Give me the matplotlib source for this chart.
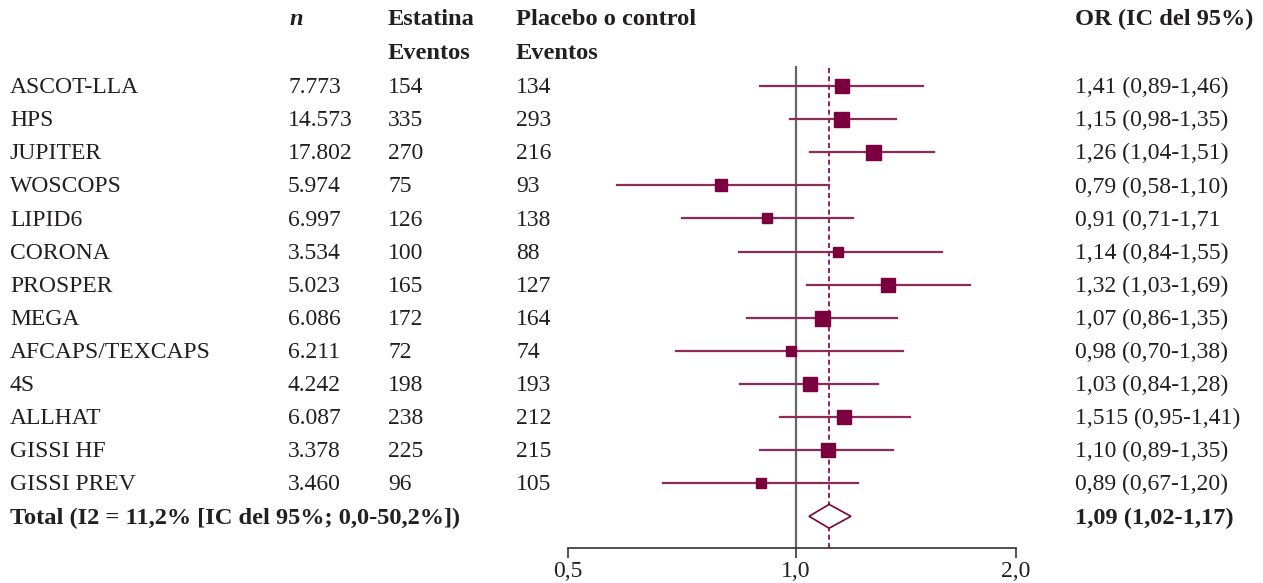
import numpy as np
import matplotlib.pyplot as plt
from matplotlib.transforms import blended_transform_factory
from matplotlib.ticker import FixedLocator, FixedFormatter, NullLocator

plt.rcParams['font.family'] = ['Liberation Serif', 'DejaVu Serif']

studies = ['ASCOT-LLA', 'HPS', 'JUPITER', 'WOSCOPS', 'LIPID6', 'CORONA', 'PROSPER',
           'MEGA', 'AFCAPS/TEXCAPS', '4S', 'ALLHAT', 'GISSI HF', 'GISSI PREV']
n_pat = ['7.773', '14.573', '17.802', '5.974', '6.997', '3.534', '5.023',
         '6.086', '6.211', '4.242', '6.087', '3.378', '3.460']
ev_statin = [154, 335, 270, 75, 126, 100, 165, 172, 72, 198, 238, 225, 96]
ev_control = [134, 293, 216, 93, 138, 88, 127, 164, 74, 193, 212, 215, 105]
or_text = ['1,41 (0,89-1,46)', '1,15 (0,98-1,35)', '1,26 (1,04-1,51)', '0,79 (0,58-1,10)',
           '0,91 (0,71-1,71', '1,14 (0,84-1,55)', '1,32 (1,03-1,69)', '1,07 (0,86-1,35)',
           '0,98 (0,70-1,38)', '1,03 (0,84-1,28)', '1,515 (0,95-1,41)', '1,10 (0,89-1,35)',
           '0,89 (0,67-1,20)']
# plotted estimates
or_point = [1.156, 1.152, 1.275, 0.796, 0.916, 1.141, 1.336, 1.085, 0.985, 1.045, 1.163, 1.106, 0.899]
ci_low = [0.896, 0.982, 1.045, 0.580, 0.707, 0.841, 1.035, 0.862, 0.694, 0.844, 0.953, 0.896, 0.667]
ci_high = [1.492, 1.370, 1.545, 1.110, 1.197, 1.584, 1.730, 1.375, 1.401, 1.295, 1.432, 1.357, 1.216]
box_size = [9.5, 10.8, 10.8, 8.0, 7.9, 7.9, 9.4, 10.8, 7.9, 10.1, 10.1, 10.1, 7.9]

total_label = 'Total (I2 = 11,2% [IC del 95%; 0,0-50,2%])'
total_text = '1,09 (1,02-1,17)'
total_or, total_low, total_high = 1.110, 1.042, 1.189

ticks = [0.5, 1.0, 2.0]
tick_labels = ['0,5', '1,0', '2,0']


# the printed axis is not quite symmetric in log units: left half a bit wider
def fwd(x):
    lx = np.log2(np.clip(x, 1e-6, None))
    return np.where(lx < 0, 228 * lx, 220 * lx)


def inv(y):
    y = np.asarray(y, dtype=float)
    return np.where(y < 0, 2 ** (y / 228), 2 ** (y / 220))


W, H = 1263, 583
fig = plt.figure(figsize=(W / 100, H / 100), dpi=100)
ax = fig.add_axes([568 / W, (H - 548) / H, (1016 - 568) / W, 548 / H])

row_h = 33.1
ax.set_xscale('function', functions=(fwd, inv))
ax.set_xlim(0.5, 2.0)
ax.set_ylim((548 - 86) / row_h, -86 / row_h)

col = '#7a0040'
line_col = '#8e2a5a'
fs = 17
fs_b = 17.6
dy = 0.05  # nudge text down a little so caps sit on the row centre

for i in range(len(studies)):
    ax.plot([ci_low[i], ci_high[i]], [i, i], color=line_col, lw=1.6, zorder=2)
    ax.plot(or_point[i], i, marker='s', ms=box_size[i], color=col, mec=col, zorder=3)

nt = len(studies)
ax.fill([total_low, total_or, total_high, total_or, total_low],
        [nt, nt - 0.36, nt, nt + 0.36, nt], facecolor='white', edgecolor=col, lw=1.2, zorder=3)

ax.axvline(1.0, ymin=0, ymax=1 - (67 / 548), color='#666666', lw=1.6, zorder=1)
ax.axvline(total_or, ymin=0, ymax=1 - (65 / 548), color=col, lw=1.2, ls=(0, (3, 2)), zorder=1)

for s in ['top', 'right', 'left']:
    ax.spines[s].set_visible(False)
ax.spines['bottom'].set_color('#333333')
ax.spines['bottom'].set_linewidth(1.2)
ax.yaxis.set_major_locator(NullLocator())
ax.xaxis.set_major_locator(FixedLocator(ticks))
ax.xaxis.set_major_formatter(FixedFormatter(tick_labels))
ax.xaxis.set_minor_locator(NullLocator())
ax.tick_params(axis='x', direction='out', length=7.5, width=1.2, color='#333333',
               labelsize=fs, pad=2, labelcolor='#231f20')
ax.patch.set_visible(False)

tr = blended_transform_factory(fig.transFigure, ax.transData)
txt_col = '#231f20'
cols_x = [10 / W, 288 / W, 388 / W, 516 / W, 1075 / W]

for i in range(len(studies)):
    vals = [studies[i], n_pat[i], str(ev_statin[i]), str(ev_control[i]), or_text[i]]
    for x, v in zip(cols_x, vals):
        ax.text(x, i + dy, v, transform=tr, fontsize=fs, va='center', ha='left',
                color=txt_col, clip_on=False)

ax.text(cols_x[0], nt + dy, total_label, transform=tr, fontsize=fs_b, va='center',
        fontweight='bold', color=txt_col, clip_on=False)
ax.text(cols_x[4], nt + dy, total_text, transform=tr, fontsize=fs_b, va='center',
        fontweight='bold', color=txt_col, clip_on=False)

h1 = (18 - 86) / row_h + dy
h2 = (52 - 86) / row_h + dy
ax.text(290 / W, h1, 'n', transform=tr, fontsize=fs_b, va='center', fontweight='bold',
        style='italic', color=txt_col, clip_on=False)
ax.text(cols_x[2], h1, 'Estatina', transform=tr, fontsize=fs_b, va='center',
        fontweight='bold', color=txt_col, clip_on=False)
ax.text(cols_x[2], h2, 'Eventos', transform=tr, fontsize=fs_b, va='center',
        fontweight='bold', color=txt_col, clip_on=False)
ax.text(cols_x[3], h1, 'Placebo o control', transform=tr, fontsize=fs_b, va='center',
        fontweight='bold', color=txt_col, clip_on=False)
ax.text(cols_x[3], h2, 'Eventos', transform=tr, fontsize=fs_b, va='center',
        fontweight='bold', color=txt_col, clip_on=False)
ax.text(cols_x[4], h1, 'OR (IC del 95%)', transform=tr, fontsize=fs_b, va='center',
        fontweight='bold', color=txt_col, clip_on=False)

fig.savefig('out.png', dpi=100)
